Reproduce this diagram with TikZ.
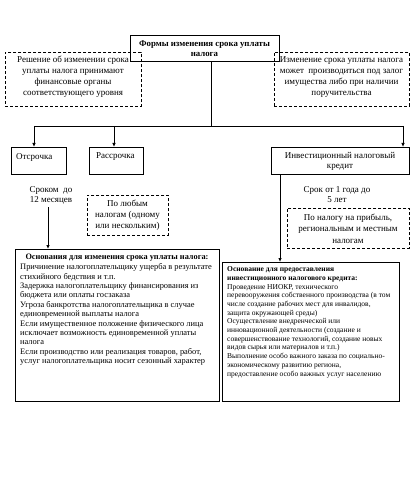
\documentclass[tikz,border=0pt]{standalone}
\usepackage{fontspec}
\setmainfont{Liberation Serif}
\usetikzlibrary{arrows.meta}
\begin{document}
\begin{tikzpicture}[x=1pt,y=-1pt,
  box/.style={draw, line width=0.8pt, inner sep=0, anchor=north west},
  dbox/.style={box, dash pattern=on 3pt off 2pt},
  txt/.style={inner sep=0, align=center, font=\fontsize{9}{11}\selectfont},
  ltxt/.style={inner sep=0, align=left, anchor=north west},
  conn/.style={line width=0.8pt},
  arr/.style={conn, -{Latex[length=4pt,width=3.5pt]}}]
\useasboundingbox (0,0) rectangle (413,497);
% boxes
\node[box, line width=1.4pt, minimum width=149pt, minimum height=26pt] (top) at (130,35) {};
\node[txt, font=\fontsize{8.8}{10}\selectfont\bfseries] (toptxt) at (204.5,48.5) {Формы изменения срока уплаты\\налога};
\node[dbox, minimum width=136pt, minimum height=54pt] (ld) at (5,52) {};
\node[txt] (ldtxt) at (73,77) {Решение об изменении срока\\уплаты налога принимают\\финансовые органы\\соответствующего уровня};
\node[dbox, minimum width=135pt, minimum height=54pt] (rd) at (274,52) {};
\node[txt] (rdtxt) at (341.5,77) {Изменение срока уплаты налога\\может \ производиться под залог\\имущества либо при наличии\\поручительства};
\node[box, minimum width=55pt, minimum height=27pt] (otsr) at (11,147) {};
\node[txt, anchor=west] (otsrtxt) at (16,157) {Отсрочка};
\node[box, minimum width=54pt, minimum height=27pt] (rassr) at (89,147) {};
\node[txt, anchor=west] (rassrtxt) at (96,157) {Рассрочка};
\node[box, minimum width=138pt, minimum height=27pt] (inv) at (271,147) {};
\node[txt, font=\fontsize{9}{10}\selectfont] (invtxt) at (340,161) {Инвестиционный налоговый\\кредит};
\node[txt, font=\fontsize{9}{10}\selectfont] (srok12) at (51,195) {Сроком \ до\\12 месяцев};
\node[dbox, minimum width=81pt, minimum height=40pt] (lub) at (87,195) {};
\node[txt, font=\fontsize{9}{11}\selectfont] (lubtxt) at (127.5,215) {По любым\\налогам (одному\\или нескольким)};
\node[txt, font=\fontsize{9}{10}\selectfont] (srok15) at (337,195) {Срок от 1 года до\\5 лет};
\node[dbox, minimum width=122pt, minimum height=40pt] (prib) at (287,208) {};
\node[txt, font=\fontsize{9}{11.5}\selectfont] (pribtxt) at (348,228.5) {По налогу на прибыль,\\региональным и местным\\налогам};
\node[box, minimum width=204pt, minimum height=152pt] (bl) at (15,249) {};
\node[txt, font=\fontsize{8.3}{9.4}\selectfont\bfseries] (blhead) at (117,257.5) {Основания для изменения срока уплаты налога:};
\node[ltxt, font=\fontsize{8.4}{9.4}\selectfont] (bltxt) at (20,263.5) {Причинение налогоплательщику ущерба в результате\\стихийного бедствия и т.п.\\Задержка налогоплательщику финансирования из\\бюджета или оплаты госзаказа\\Угроза банкротства налогоплательщика в случае\\единовременной выплаты налога\\Если имущественное положение физического лица\\исключает возможность единовременной уплаты\\налога\\Если производство или реализация товаров, работ,\\услуг налогоплательщика носит сезонный характер};
\node[box, minimum width=177pt, minimum height=139pt] (br) at (222,262) {};
\node[ltxt, font=\fontsize{7.5}{8.7}\selectfont] (brtxt) at (227,266.5) {\textbf{Основание для предоставления}\\\textbf{инвестиционного налогового кредита:}\\Проведение НИОКР, технического\\перевооружения собственного производства (в том\\числе создание рабочих мест для инвалидов,\\защита окружающей среды)\\Осуществление внедренческой или\\инновационной деятельности (создание и\\совершенствование технологий, создание новых\\видов сырья или материалов и т.п.)\\Выполнение особо важного заказа по социально-\\экономическому развитию региона,\\предоставление особо важных услуг населению};
% connectors
\coordinate (hub) at (211,126);
\coordinate (hl) at (34,126);
\coordinate (hr) at (403,126);
\coordinate (hm) at (114,126);
\coordinate (s12) at (48,207);
\draw[conn] (top.south -| hub) -- (hub);
\draw[conn] (hl) -- (hr);
\draw[arr] (hl) -- (hl |- otsr.north);
\draw[arr] (hm) -- (hm |- rassr.north);
\draw[arr] (hr) -- (hr |- inv.north);
\draw[arr] (s12) -- (s12 |- bl.north);
\coordinate (iv) at (280,174);
\draw[arr] (iv |- inv.south) -- (iv |- br.north);
\end{tikzpicture}
\end{document}
